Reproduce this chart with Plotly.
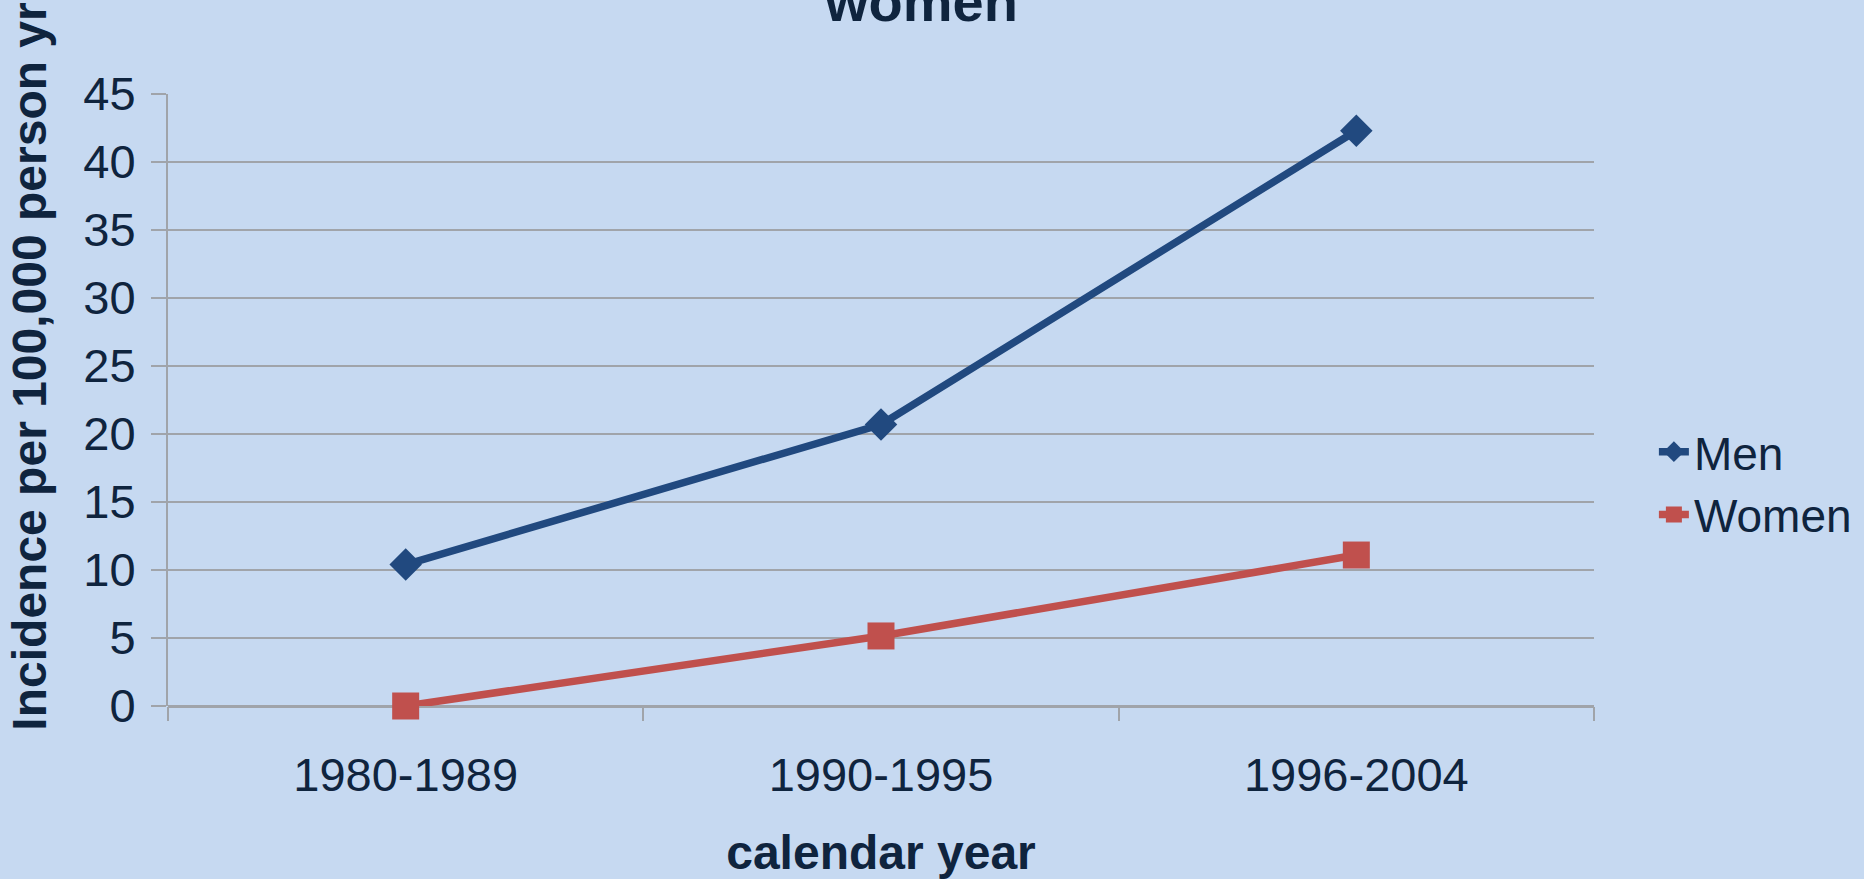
import plotly.graph_objects as go

categories = ["1980-1989", "1990-1995", "1996-2004"]
men = [10.4, 20.7, 42.3]
women = [0.0, 5.15, 11.1]
y_ticks = [0, 5, 10, 15, 20, 25, 30, 35, 40, 45]

BG = "#C6D9F1"
TXT = "#0F243E"
GRID = "#A0A4AA"
FONT = "Liberation Sans, Arial, sans-serif"

fig = go.Figure()
fig.add_trace(go.Scatter(
    x=categories, y=men, name="Men", mode="lines+markers",
    line=dict(color="#21497F", width=7.5),
    marker=dict(symbol="diamond", size=25, color="#21497F"),
    cliponaxis=False,
))
fig.add_trace(go.Scatter(
    x=categories, y=women, name="Women", mode="lines+markers",
    line=dict(color="#C0504D", width=7.5),
    marker=dict(symbol="square", size=27, color="#C0504D"),
    cliponaxis=False,
))

fig.update_layout(
    width=1864, height=879,
    paper_bgcolor=BG, plot_bgcolor=BG,
    margin=dict(l=168, r=270, t=94, b=173, autoexpand=False),
    font=dict(family=FONT, color=TXT, size=47),
    showlegend=True,
    legend=dict(x=1.042, y=0.475, xanchor="left", yanchor="top",
                bgcolor="rgba(0,0,0,0)", font=dict(size=46),
                tracegroupgap=0, itemwidth=30),
    xaxis=dict(
        type="category", range=[-0.5, 2.5],
        showgrid=False, showline=False, zeroline=False,
        ticks="outside", ticklen=14, tickwidth=2, tickcolor=GRID,
        tickson="boundaries",
        tickfont=dict(size=47, color=TXT),
        ticklabelstandoff=37,
        title=dict(text="<b>calendar year</b>", font=dict(size=48, color=TXT), standoff=35),
    ),
    yaxis=dict(
        range=[0, 45], tickvals=y_ticks,
        showgrid=True, gridcolor=GRID, gridwidth=2,
        showline=True, linecolor=GRID, linewidth=2,
        zeroline=True, zerolinecolor=GRID, zerolinewidth=3,
        ticks="outside", ticklen=15, tickwidth=2, tickcolor=GRID,
        tickfont=dict(size=47, color=TXT),
        ticklabelstandoff=6,
    ),
    annotations=[
        dict(text="<b>Incidence per 100,000 person yr</b>", textangle=-90,
             xref="paper", yref="paper", x=-0.097, y=0.554,
             xanchor="center", yanchor="middle", showarrow=False,
             font=dict(size=48, color=TXT, family=FONT)),
        dict(text="<b>women</b>", xref="paper", yref="paper",
             x=0.528, y=1.097, xanchor="center", yanchor="bottom",
             showarrow=False, font=dict(size=56, color=TXT, family=FONT)),
    ],
)

fig.write_html(
    "out.html",
    config={"displayModeBar": False},
    post_script="document.body.style.margin='0';document.body.style.background='#C6D9F1';document.body.style.overflow='hidden';",
)
